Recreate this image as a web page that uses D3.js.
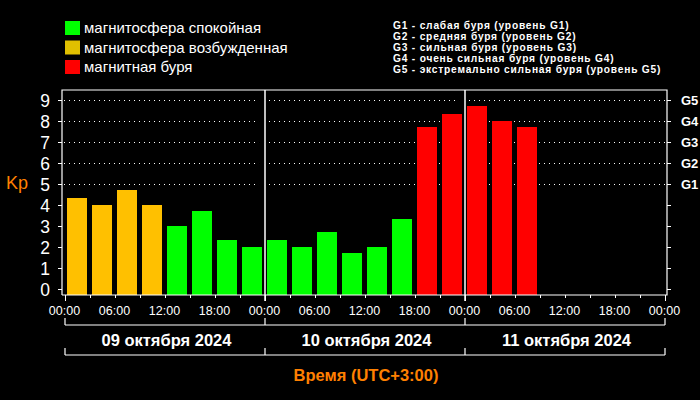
<!DOCTYPE html>
<html><head><meta charset="utf-8">
<script src="https://cdn.jsdelivr.net/npm/d3@7"></script>
<style>
html,body{margin:0;padding:0;background:#000;}
svg{display:block;}
</style></head>
<body>
<svg id="c" width="700" height="400"></svg>
<script>
// ---- data ----
const slotStartHours = [0,3,6,9,12,15,18,21,24,27,30,33,36,39,42,45,48,51,54];
const kpValues = [4.33,4,4.67,4,3,3.67,2.33,2,2.33,2,2.67,1.67,2,3.33,7.67,8.33,8.67,8,7.67];
const timeTickLabels = ["00:00","06:00","12:00","18:00","00:00","06:00","12:00","18:00","00:00","06:00","12:00","18:00","00:00"];
const dayLabels = ["09 октября 2024","10 октября 2024","11 октября 2024"];
const kpTicks = [0,1,2,3,4,5,6,7,8,9];
const gLabels = ["G1","G2","G3","G4","G5"];
const legendItems = ["магнитосфера спокойная","магнитосфера возбужденная","магнитная буря"];
const gLegend = ["G1 - слабая буря (уровень G1)","G2 - средняя буря (уровень G2)","G3 - сильная буря (уровень G3)","G4 - очень сильная буря (уровень G4)","G5 - экстремально сильная буря (уровень G5)"];

const GREEN="#00ff00", YELLOW="#ffc000", RED="#ff0000", ORANGE="#ff8000";
const legendColors=[GREEN,"#e0c000",RED];
function kpColor(v){ return v>=5?RED:(v>=4?YELLOW:GREEN); }

const svg=d3.select("#c");
const x=d3.scaleLinear().domain([0,72]).range([64.5,664.5]);
const y=d3.scaleLinear().domain([0,9]).range([288.5,99.5]);
const plot={l:62,r:667,t:90,b:295};
const font="'Liberation Sans', Arial, sans-serif";

// gridlines (dotted) for 5..9, broken around day dividers
const daySegs=[[59,259],[269,459],[469,667]];
[5,6,7,8,9].forEach(v=>{
  daySegs.forEach(s=>{
    svg.append("line").attr("x1",s[0]).attr("x2",s[1]).attr("y1",Math.round(y(v))+0.5).attr("y2",Math.round(y(v))+0.5)
      .attr("stroke","#fff").attr("stroke-width",1).attr("stroke-dasharray","1,4");
  });
});

// bars
svg.append("g").selectAll("rect").data(kpValues).join("rect")
  .attr("x",(d,i)=>Math.round(x(slotStartHours[i]+0.3)))
  .attr("width",(d,i)=>Math.round(x(slotStartHours[i]+2.7))-Math.round(x(slotStartHours[i]+0.3)))
  .attr("y",d=>Math.round(y(d)))
  .attr("height",d=>plot.b-Math.round(y(d)))
  .attr("fill",d=>kpColor(d));

// frame
const frame=svg.append("g").attr("stroke","#fff").attr("stroke-width",1.2).attr("fill","none");
frame.append("path").attr("d",`M${plot.l},${plot.b}V${plot.t}H${plot.r}V${plot.b}H${plot.l}`);
// day dividers
[24,48].forEach(h=>{
  svg.append("line").attr("x1",Math.round(x(h))).attr("x2",Math.round(x(h))).attr("y1",plot.t).attr("y2",301)
    .attr("stroke","#fff").attr("stroke-width",1.5);
});

// left y axis ticks & labels
const yl=svg.append("g");
kpTicks.forEach(v=>{
  const yy=Math.round(y(v))+0.5;
  yl.append("line").attr("x1",58).attr("x2",62).attr("y1",yy).attr("y2",yy).attr("stroke","#fff");
  svg.append("line").attr("x1",667).attr("x2",671).attr("y1",yy).attr("y2",yy).attr("stroke","#fff");
  yl.append("text").attr("x",50).attr("y",yy).attr("dy","0.36em").attr("text-anchor","end")
    .attr("fill","#fff").attr("font-family",font).attr("font-size",17.5).text(v);
});
// right G labels
gLabels.forEach((g,i)=>{
  svg.append("text").attr("x",681).attr("y",Math.round(y(5+i))+0.5).attr("dy","0.36em")
    .attr("fill","#fff").attr("font-family",font).attr("font-weight","bold").attr("font-size",13).text(g);
});
// Kp title
svg.append("text").attr("x",6).attr("y",189).attr("fill",ORANGE).attr("font-family",font).attr("font-size",18).text("Kp");

// bottom ticks
d3.range(0,73,3).forEach(h=>{
  const xx=Math.round(x(h))+0.5;
  svg.append("line").attr("x1",xx).attr("x2",xx).attr("y1",plot.b).attr("y2",h%24===0?301:298).attr("stroke","#fff");
});
timeTickLabels.forEach((t,i)=>{
  svg.append("text").attr("x",x(i*6)).attr("y",310).attr("dy","0.36em").attr("text-anchor","middle")
    .attr("fill","#fff").attr("font-family",font).attr("font-size",12.5).text(t);
});

// date brackets
function bracket(yb,ytop){
  const p=svg.append("g").attr("stroke","#fff").attr("stroke-width",1.2).attr("fill","none");
  p.append("line").attr("x1",Math.round(x(0))).attr("x2",Math.round(x(72))).attr("y1",yb).attr("y2",yb);
  [0,24,48,72].forEach(h=>p.append("line").attr("x1",Math.round(x(h))).attr("x2",Math.round(x(h))).attr("y1",ytop).attr("y2",yb));
}
bracket(325,318);
bracket(355,348);
dayLabels.forEach((d,i)=>{
  svg.append("text").attr("x",x(i*24+12)+2).attr("y",340).attr("dy","0.36em").attr("text-anchor","middle")
    .attr("fill","#fff").attr("font-family",font).attr("font-weight","bold").attr("font-size",16.5).text(d);
});
svg.append("text").attr("x",366).attr("y",375).attr("dy","0.36em").attr("text-anchor","middle")
  .attr("fill",ORANGE).attr("font-family",font).attr("font-weight","bold").attr("font-size",16.5).text("Время (UTC+3:00)");

// legend
legendItems.forEach((t,i)=>{
  svg.append("rect").attr("x",65).attr("y",21+i*19.5).attr("width",15).attr("height",14).attr("fill",legendColors[i]);
  svg.append("text").attr("x",84).attr("y",28+i*19.5).attr("dy","0.36em").attr("fill","#fff")
    .attr("font-family",font).attr("font-size",15).text(t);
});
gLegend.forEach((t,i)=>{
  svg.append("text").attr("x",393).attr("y",25+i*11.2).attr("dy","0.36em").attr("fill","#fff")
    .attr("font-family",font).attr("font-weight","bold").attr("font-size",10.2).attr("letter-spacing",0.8).text(t);
});
</script>
</body></html>
